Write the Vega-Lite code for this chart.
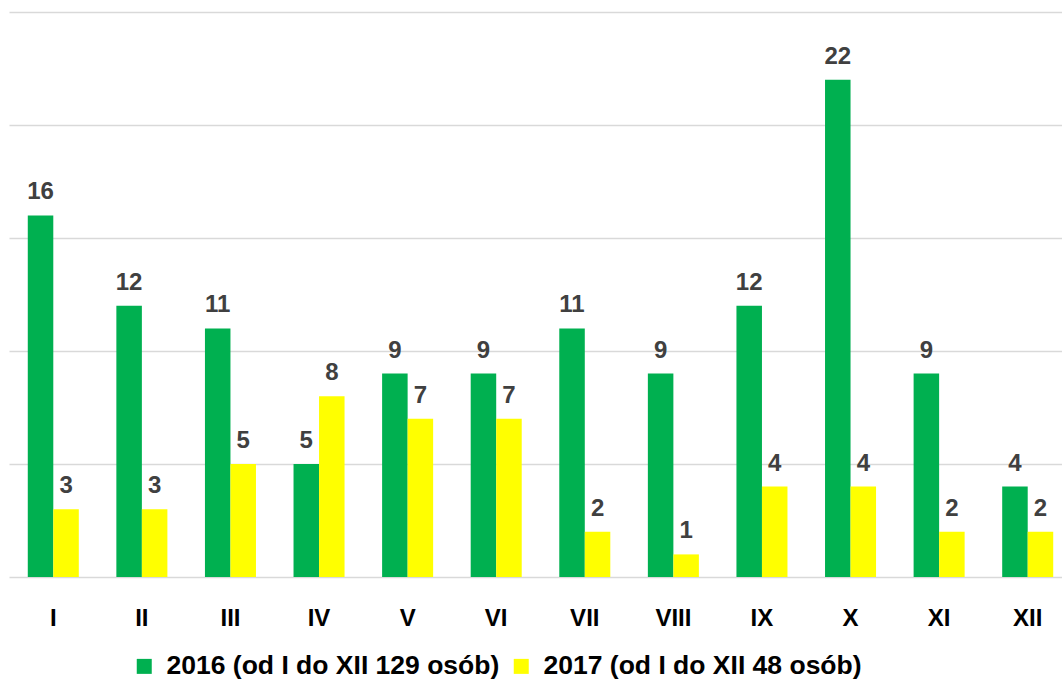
{
  "$schema": "https://vega.github.io/schema/vega-lite/v6.json",
  "width": 1053,
  "height": 565,
  "autosize": "none",
  "padding": {"left": 9, "top": 12, "right": 0, "bottom": 102},
  "background": "white",
  "config": {"view": {"stroke": null}, "font": "Liberation Sans"},
  "data": {
    "values": [
      {"month": "I", "series": "2016 (od I do XII 129 osób)", "value": 16},
      {"month": "II", "series": "2016 (od I do XII 129 osób)", "value": 12},
      {"month": "III", "series": "2016 (od I do XII 129 osób)", "value": 11},
      {"month": "IV", "series": "2016 (od I do XII 129 osób)", "value": 5},
      {"month": "V", "series": "2016 (od I do XII 129 osób)", "value": 9},
      {"month": "VI", "series": "2016 (od I do XII 129 osób)", "value": 9},
      {"month": "VII", "series": "2016 (od I do XII 129 osób)", "value": 11},
      {"month": "VIII", "series": "2016 (od I do XII 129 osób)", "value": 9},
      {"month": "IX", "series": "2016 (od I do XII 129 osób)", "value": 12},
      {"month": "X", "series": "2016 (od I do XII 129 osób)", "value": 22},
      {"month": "XI", "series": "2016 (od I do XII 129 osób)", "value": 9},
      {"month": "XII", "series": "2016 (od I do XII 129 osób)", "value": 4},
      {"month": "I", "series": "2017 (od I do XII 48 osób)", "value": 3},
      {"month": "II", "series": "2017 (od I do XII 48 osób)", "value": 3},
      {"month": "III", "series": "2017 (od I do XII 48 osób)", "value": 5},
      {"month": "IV", "series": "2017 (od I do XII 48 osób)", "value": 8},
      {"month": "V", "series": "2017 (od I do XII 48 osób)", "value": 7},
      {"month": "VI", "series": "2017 (od I do XII 48 osób)", "value": 7},
      {"month": "VII", "series": "2017 (od I do XII 48 osób)", "value": 2},
      {"month": "VIII", "series": "2017 (od I do XII 48 osób)", "value": 1},
      {"month": "IX", "series": "2017 (od I do XII 48 osób)", "value": 4},
      {"month": "X", "series": "2017 (od I do XII 48 osób)", "value": 4},
      {"month": "XI", "series": "2017 (od I do XII 48 osób)", "value": 2},
      {"month": "XII", "series": "2017 (od I do XII 48 osób)", "value": 2}
    ]
  },
  "encoding": {
    "x": {
      "field": "month",
      "type": "nominal",
      "sort": ["I", "II", "III", "IV", "V", "VI", "VII", "VIII", "IX", "X", "XI", "XII"],
      "scale": {"range": [0, 1063], "paddingInner": 0.424, "paddingOuter": 0.212},
      "axis": {
        "title": null,
        "domain": false,
        "ticks": false,
        "tickSize": 0,
        "labelPadding": 29,
        "labelAngle": 0,
        "labelFontSize": 24,
        "labelFontWeight": "bold",
        "labelColor": "#000000",
        "grid": false
      }
    },
    "xOffset": {
      "field": "series",
      "type": "nominal",
      "scale": {"paddingInner": 0, "paddingOuter": 0}
    },
    "y": {
      "field": "value",
      "type": "quantitative",
      "scale": {"domain": [0, 25], "nice": false},
      "axis": {
        "title": null,
        "domain": false,
        "ticks": false,
        "labels": false,
        "values": [0, 5, 10, 15, 20, 25],
        "grid": true,
        "gridColor": "#d9d9d9",
        "gridWidth": 1.3
      }
    }
  },
  "layer": [
    {
      "mark": {"type": "bar"},
      "encoding": {
        "color": {
          "field": "series",
          "type": "nominal",
          "scale": {
            "domain": ["2016 (od I do XII 129 osób)", "2017 (od I do XII 48 osób)"],
            "range": ["#00B050", "#FFFF00"]
          },
          "legend": {
            "orient": "none",
            "legendX": 122,
            "legendY": 641,
            "direction": "horizontal",
            "title": null,
            "padding": 0,
            "labelFontSize": 26.5,
            "labelFontWeight": "bold",
            "labelColor": "#000000",
            "labelLimit": 0,
            "labelOffset": 9,
            "columnPadding": 8,
            "symbolType": "square",
            "symbolSize": 225,
            "symbolStrokeWidth": 0,
            "symbolOpacity": 1
          }
        }
      }
    },
    {
      "mark": {
        "type": "text",
        "baseline": "alphabetic",
        "dy": -16,
        "fontSize": 24,
        "fontWeight": "bold",
        "color": "#404040"
      },
      "encoding": {"text": {"field": "value", "type": "quantitative"}}
    }
  ]
}
